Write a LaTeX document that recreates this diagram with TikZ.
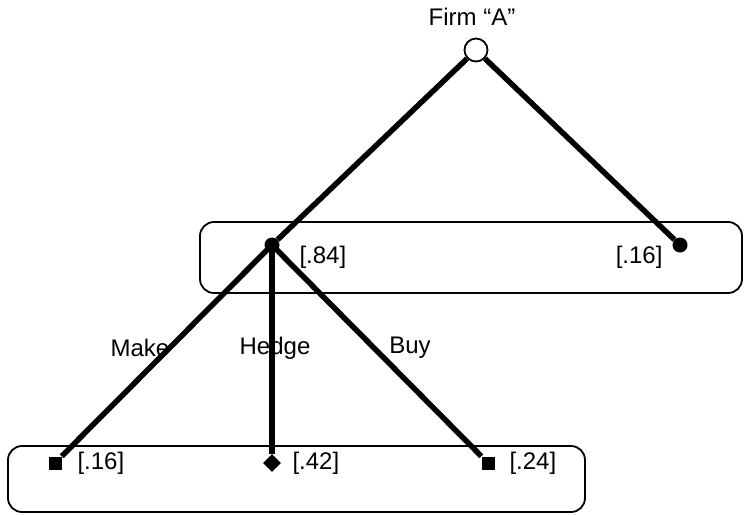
\documentclass[tikz,border=0pt]{standalone}
\usepackage{fontspec}
\setmainfont{Liberation Sans}
\usetikzlibrary{shapes.geometric}

\begin{document}
\begin{tikzpicture}[x=1pt, y=-1pt,
      every node/.style={font=\fontsize{24}{28}\selectfont},
      br/.style={line width=5.5pt},
      grp/.style={draw, line width=1.8pt, rounded corners=14pt},
      chance/.style={circle, draw, line width=1.8pt, fill=white, inner sep=0pt, minimum size=23pt},
      dot/.style={circle, fill, inner sep=0pt, minimum size=15pt},
      sq/.style={rectangle, fill, inner sep=0pt, minimum size=13pt},
      dia/.style={diamond, fill, inner sep=0pt, minimum size=18pt}]
    \useasboundingbox (0,0) rectangle (744,514);
    % information sets
    \draw[grp] (200,222) rectangle (742,293);
    \draw[grp] (8,446) rectangle (585,512);
    % nodes
    \node[chance] (root) at (476,50) {};
    \node (firm) at (472,17) {Firm “A”};
    \node[dot] (mid) at (272,245) {};
    \node[dot] (rt) at (680,245) {};
    \node[sq] (make) at (55,463) {};
    \node[dia] (hedge) at (272,463) {};
    \node[sq] (buy) at (488,463) {};
    % branches
    \draw[br] (root) -- (mid);
    \draw[br] (root) -- (rt);
    \draw[br] (mid.center) -- (make);
    \draw[br] (mid.center) -- (hedge);
    \draw[br] (mid.center) -- (buy);
    % probabilities
    \node[anchor=west] (pmid) at (296,257) {[.84]};
    \node[anchor=east] (prt) at (666,257) {[.16]};
    \node[anchor=west] (pmake) at (74,463) {[.16]};
    \node[anchor=west] (phedge) at (289,463) {[.42]};
    \node[anchor=west] (pbuy) at (506,463) {[.24]};
    % actions
    \node (lmake) at (140,348) {Make};
    \node (lhedge) at (275,348) {Hedge};
    \node (lbuy) at (410,348) {Buy};
\end{tikzpicture}
\end{document}
